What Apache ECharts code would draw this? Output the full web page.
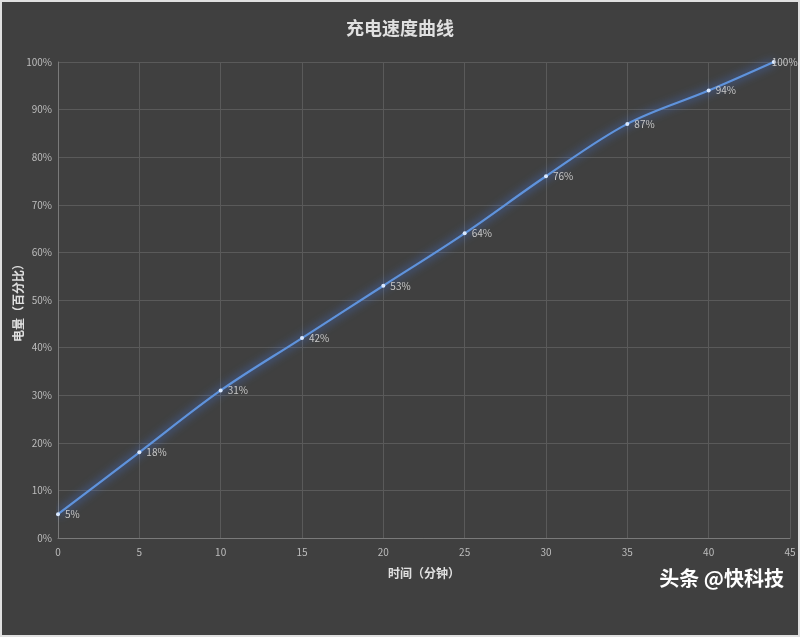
<!DOCTYPE html>
<html><head><meta charset="utf-8">
<script src="https://cdn.jsdelivr.net/npm/echarts@6/dist/echarts.min.js"></script>
<style>html,body{margin:0;padding:0;background:#404040;}#c{width:800px;height:637px;box-sizing:border-box;border:2px solid #e0e0e0;}</style>
</head><body><div id="c"></div>
<script>
const minutes = [0, 5, 10, 15, 20, 25, 30, 35, 40, 44];
const battery = [5, 18, 31, 42, 53, 64, 76, 87, 94, 100];
const titleText = '充电速度曲线';
const xName = '时间（分钟）';
const yName = '电量（百分比）';
const watermark = '头条 @快科技';

const chart = echarts.init(document.getElementById('c'));
const narrow = '"Liberation Sans Narrow", "Noto Sans CJK SC", sans-serif';
const seriesData = minutes.map((m, i) => {
  const item = { value: [m, battery[i]] };
  if (i === minutes.length - 1) item.label = { offset: [-9, 0] };
  return item;
});
chart.setOption({
  backgroundColor: '#404040',
  animation: false,
  title: {
    text: titleText, left: 'center', top: 12,
    textStyle: { color: '#e0e0e0', fontSize: 18, fontWeight: 'bold', fontFamily: '"Noto Sans CJK SC", sans-serif' }
  },
  grid: { left: 56, right: 8, top: 60, bottom: 97, containLabel: false, outerBoundsMode: 'none' },
  xAxis: {
    type: 'value', min: 0, max: 45, interval: 5,
    name: xName, nameLocation: 'middle', nameGap: 29, nameMoveOverlap: false,
    nameTextStyle: { color: '#e0e0e0', fontSize: 12, fontWeight: 'bold', fontFamily: '"Noto Sans CJK SC", sans-serif' },
    axisLine: { lineStyle: { color: '#7a7a7a' } },
    axisTick: { show: false },
    axisLabel: { color: '#bdbdbd', fontSize: 10, margin: 9, fontFamily: narrow },
    splitLine: { show: true, lineStyle: { color: '#5a5a5a' } }
  },
  yAxis: {
    type: 'value', min: 0, max: 100, interval: 10,
    name: yName, nameLocation: 'middle', nameGap: 34, nameRotate: 90, nameMoveOverlap: false,
    nameTextStyle: { color: '#e0e0e0', fontSize: 12, fontWeight: 'bold', fontFamily: '"Noto Sans CJK SC", sans-serif' },
    axisLine: { show: true, lineStyle: { color: '#7a7a7a' } },
    axisTick: { show: false },
    axisLabel: { color: '#bdbdbd', fontSize: 10, margin: 6, fontFamily: narrow, formatter: '{value}%' },
    splitLine: { show: true, lineStyle: { color: '#5a5a5a' } }
  },
  series: [{
    type: 'line',
    data: seriesData,
    smooth: 0.35,
    clip: false,
    symbol: 'circle', symbolSize: 4,
    itemStyle: { color: '#d8e8ff', borderWidth: 0 },
    lineStyle: { color: '#5f93dc', width: 2.2, shadowColor: 'rgba(70,130,255,1)', shadowBlur: 10 },
    label: {
      show: true, position: 'right', distance: 5,
      color: '#c8c8c8', fontSize: 10, fontFamily: narrow,
      formatter: p => p.value[1] + '%'
    }
  }],
  graphic: [{
    type: 'text', right: 14, top: 566,
    style: { text: watermark, fill: '#ffffff', fontSize: 20, fontWeight: 'bold', fontFamily: '"Noto Sans CJK SC", sans-serif' }
  }]
});
</script></body></html>
